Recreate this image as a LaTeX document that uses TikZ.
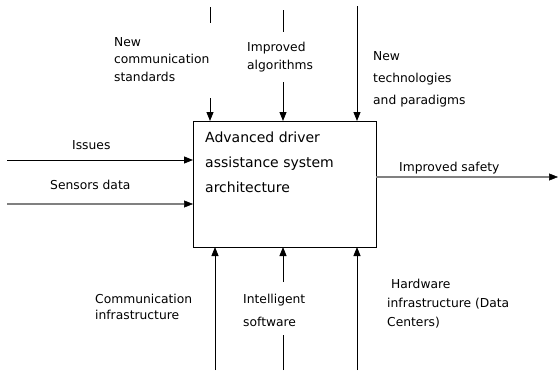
\documentclass[tikz,border=0pt]{standalone}
\usepackage{fontspec}
\setmainfont{DejaVu Sans}
\usetikzlibrary{arrows.meta}
\tikzset{
  lbl/.style={anchor=base west, inner sep=0pt, align=left, font=\fontsize{12.3}{#1}\selectfont},
  lbl/.default=18,
  boxtxt/.style={anchor=base west, inner sep=0pt, align=left, font=\fontsize{14}{25}\selectfont},
  ln/.style={line width=0.9pt, black},
  gln/.style={line width=1.8pt, black!50},
  arr/.style={-{Triangle[length=9pt,width=7pt]}},
  garr/.style={-{Triangle[length=9pt,width=7pt,color=black,fill=black,line width=0.5pt]}},
}
\begin{document}
\begin{tikzpicture}[x=1pt,y=-1pt]
\useasboundingbox (0,0) rectangle (560,370);
% main box
\node[draw, line width=0.9pt, minimum width=183pt, minimum height=126pt, inner sep=0pt, anchor=north west] (box) at (193,121) {};
\node[boxtxt] (boxt) at (205,192) {Advanced driver\\assistance system\\architecture};
% coordinates
\coordinate (t1a) at (210,7);   \coordinate (t1b) at (210,23);
\coordinate (t1c) at (210,98);  \coordinate (t1d) at (210,121);
\coordinate (t2a) at (283,10);  \coordinate (t2b) at (283,32);
\coordinate (t2c) at (283,82);  \coordinate (t2d) at (283,121);
\coordinate (t3a) at (357,6);   \coordinate (t3d) at (357,121);
\coordinate (b1a) at (215,370); \coordinate (b1d) at (215,247);
\coordinate (b2a) at (283,370); \coordinate (b2b) at (283,335);
\coordinate (b2c) at (283,282); \coordinate (b2d) at (283,247);
\coordinate (b3a) at (357,370); \coordinate (b3d) at (357,247);
\coordinate (i1) at (7,160);    \coordinate (i1e) at (193,160);
\coordinate (s1) at (7,204);    \coordinate (s1e) at (193,204);
\coordinate (o1) at (376,177);  \coordinate (o1e) at (558,177);
% top controls
\draw[ln] (t1a) -- (t1b);
\draw[ln,arr] (t1c) -- (t1d);
\draw[ln] (t2a) -- (t2b);
\draw[ln,arr] (t2c) -- (t2d);
\draw[ln,arr] (t3a) -- (t3d);
% bottom mechanisms
\draw[ln,arr] (b1a) -- (b1d);
\draw[ln] (b2a) -- (b2b);
\draw[ln,arr] (b2c) -- (b2d);
\draw[ln,arr] (b3a) -- (b3d);
% inputs / output
\draw[ln,arr] (i1) -- (i1e);
\draw[gln,garr] (s1) -- (s1e);
\draw[gln,garr] (o1) -- (o1e);
% labels (anchor = baseline of last line)
\node[lbl=17.5] (l1) at (114,81) {New\\communication\\standards};
\node[lbl=18] (l2) at (247,69) {Improved\\algorithms};
\node[lbl=22] (l3) at (373,104) {New\\technologies\\and paradigms};
\node[lbl] (l4) at (72,149) {Issues};
\node[lbl] (l5) at (50,189) {Sensors data};
\node[lbl] (l6) at (399,171) {Improved safety};
\node[lbl=16] (l7) at (95,319) {Communication\\infrastructure};
\node[lbl=23] (l8) at (243,326) {Intelligent\\software};
\node[lbl=19] (l9) at (387,326) {\ Hardware\\infrastructure (Data\\Centers)};
\end{tikzpicture}
\end{document}
